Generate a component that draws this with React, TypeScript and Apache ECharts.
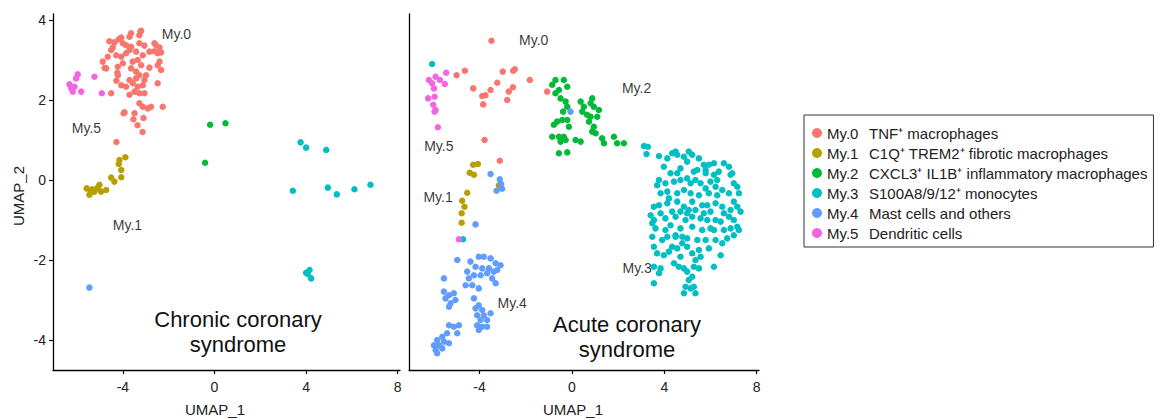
import React, { useEffect, useRef } from "react";
import * as echarts from "echarts";

const CLUSTERS = ["My.0", "My.1", "My.2", "My.3", "My.4", "My.5"];
const DESCRIPTIONS = [
  "TNF⁺ macrophages",
  "C1Q⁺ TREM2⁺ fibrotic macrophages",
  "CXCL3⁺ IL1B⁺ inflammatory macrophages",
  "S100A8/9/12⁺ monocytes",
  "Mast cells and others",
  "Dendritic cells",
];
const COLORS = ["#F8766D", "#B79F00", "#00BA38", "#00BFC4", "#619CFF", "#F564E3"];

const X_TICKS = [-4, 0, 4, 8];
const Y_TICKS = [-4, -2, 0, 2, 4];

// Chronic coronary syndrome
const C_MY0 = [[-3.23,3.72],[-3.2,3.73],[-3.28,3.62],[-3.64,3.67],[-3.71,3.58],[-4.07,3.56],[-4.18,3.52],[-4.59,3.47],[-4.37,3.44],[-4.0,3.42],[-3.86,3.37],[-3.64,3.33],[-3.28,3.42],[-3.06,3.36],[-2.62,3.42],[-2.55,3.37],[-2.4,3.31],[-2.62,3.22],[-2.48,3.17],[-2.84,3.21],[-3.13,3.12],[-3.42,3.21],[-3.71,3.25],[-3.86,3.17],[-4.07,3.08],[-4.29,3.12],[-4.66,3.08],[-4.88,2.96],[-4.44,3.31],[-4.51,3.25],[-4.0,2.92],[-3.57,2.96],[-3.35,3.0],[-3.2,2.87],[-2.84,2.81],[-2.48,2.87],[-2.4,2.96],[-2.33,3.19],[-2.33,2.75],[-4.22,2.83],[-4.73,2.79],[-3.64,2.79],[-3.42,2.71],[-3.28,2.62],[-2.99,2.62],[-3.42,2.54],[-3.06,2.5],[-3.71,2.5],[-4.22,2.62],[-4.07,2.37],[-3.86,2.33],[-3.57,2.42],[-3.35,2.33],[-3.13,2.37],[-3.49,2.21],[-3.28,2.17],[-3.06,2.17],[-2.48,2.42],[-4.51,2.17],[-4.8,2.8],[-4.24,2.68],[-4.28,2.48],[-3.71,2.13],[-3.28,1.92],[-3.13,1.83],[-2.91,1.79],[-2.77,1.83],[-2.26,1.83],[-3.93,1.69],[-3.49,1.67],[-3.1,1.55],[-3.36,1.37],[-3.14,1.2],[-3.97,1.67],[-3.54,1.52],[-4.28,0.95]];
const C_MY1 = [[-3.89,0.57],[-4.15,0.5],[-4.18,0.4],[-4.07,0.25],[-4.07,0.07],[-4.37,-0.04],[-4.51,0.06],[-4.73,-0.25],[-5.02,-0.12],[-5.1,-0.19],[-5.24,-0.29],[-5.46,-0.37],[-5.58,-0.21],[-5.34,-0.23],[-4.95,-0.29],[-5.4,-0.3]];
const C_MY2 = [[-0.19,1.38],[0.48,1.42],[-0.41,0.43]];
const C_MY3 = [[3.76,0.94],[4.0,0.81],[4.88,0.75],[3.42,-0.27],[4.95,-0.19],[5.34,-0.36],[6.11,-0.23],[6.81,-0.12],[4.15,-2.25],[4.07,-2.35],[4.22,-2.46],[4.0,-2.32]];
const C_MY4 = [[-5.46,-2.69]];
const C_MY5 = [[-5.97,2.64],[-6.04,2.54],[-6.33,2.39],[-6.11,2.33],[-6.19,2.21],[-5.82,2.21],[-5.24,2.58],[-4.92,2.17],[-6.26,2.3]];

// Acute coronary syndrome
const A_MY0 = [[-3.48,3.48],[-4.99,2.62],[-4.63,2.73],[-4.27,2.29],[-3.88,2.1],[-3.74,2.12],[-3.84,1.89],[-3.52,2.25],[-3.23,2.43],[-2.99,2.71],[-2.54,2.73],[-2.47,2.77],[-2.73,2.21],[-2.55,2.32],[-2.8,2.0],[-1.82,2.5],[-3.78,1.0],[-3.12,0.48],[-1.07,2.21]];
const A_MY1 = [[-4.27,0.38],[-4.07,0.4],[-4.42,0.18],[-4.24,0.13],[-4.53,-0.32],[-4.75,-0.52],[-4.65,-0.67],[-4.77,-0.83],[-4.77,-1.07],[-3.16,-0.13]];
const A_MY2 = [[-0.71,2.5],[-0.35,2.5],[-0.85,2.38],[-0.2,2.33],[-0.56,2.25],[-0.71,2.17],[-0.49,2.04],[-0.27,1.96],[-0.2,1.83],[-0.38,1.71],[0.38,1.96],[0.88,2.04],[0.81,1.92],[0.52,1.83],[0.95,1.83],[1.17,1.75],[0.45,1.71],[0.66,1.63],[0.81,1.58],[1.1,1.58],[0.74,1.46],[0.95,1.33],[0.88,1.21],[1.03,1.17],[-0.2,1.5],[-0.42,1.5],[-0.64,1.46],[-0.78,1.38],[-0.13,1.33],[-0.85,1.08],[-0.56,1.08],[-0.35,1.08],[-0.49,0.96],[-0.27,1.0],[0.16,1.0],[0.38,0.96],[1.31,1.04],[1.39,0.92],[1.82,1.08],[1.96,0.92],[2.25,0.92],[-0.56,0.67],[-0.2,0.69]];
const A_MY3 = [[-6.05,2.9],[-4.71,-1.48],[3.12,0.85],[3.29,0.83],[3.23,0.65],[3.77,0.6],[4.13,0.54],[4.34,0.67],[4.49,0.71],[4.56,0.63],[4.85,0.58],[5.06,0.71],[5.21,0.63],[4.99,0.46],[5.5,0.54],[5.71,0.38],[5.79,0.25],[5.93,0.38],[6.15,0.42],[5.79,0.17],[5.43,0.25],[5.28,0.21],[6.58,0.42],[6.8,0.33],[6.94,0.17],[6.87,0.13],[6.15,0.13],[6.29,0.0],[3.77,0.0],[3.69,-0.13],[4.05,-0.08],[4.42,-0.04],[4.7,0.0],[4.99,0.04],[5.14,-0.08],[5.35,0.0],[5.57,-0.08],[5.79,-0.21],[6.0,-0.04],[6.22,-0.17],[6.51,-0.25],[7.01,-0.08],[7.16,-0.17],[7.23,-0.33],[4.13,-0.29],[3.84,-0.33],[4.56,-0.33],[4.85,-0.25],[5.14,-0.33],[5.5,-0.38],[5.93,-0.33],[6.29,-0.38],[6.8,-0.33],[3.77,-0.63],[3.55,-0.67],[4.13,-0.58],[4.56,-0.54],[4.85,-0.67],[5.06,-0.75],[5.35,-0.75],[5.64,-0.63],[5.86,-0.63],[6.22,-0.58],[7.01,-0.54],[7.16,-0.67],[6.87,-0.75],[7.3,-0.79],[3.41,-0.88],[3.55,-1.0],[3.84,-0.83],[4.05,-0.96],[4.34,-0.79],[4.49,-0.92],[4.7,-0.79],[4.92,-1.0],[4.99,-0.83],[5.21,-0.92],[5.57,-0.96],[5.86,-1.0],[6.22,-1.0],[6.44,-1.04],[6.8,-0.92],[7.01,-1.0],[7.16,-1.17],[6.87,-1.21],[3.62,-1.21],[4.05,-1.25],[4.27,-1.13],[4.49,-1.38],[4.7,-1.21],[5.21,-1.17],[5.64,-1.25],[6.0,-1.21],[6.15,-1.25],[6.58,-1.25],[7.01,-1.38],[6.72,-1.46],[7.23,-1.25],[3.48,-1.42],[3.55,-1.67],[3.91,-1.5],[4.13,-1.42],[4.49,-1.42],[4.78,-1.42],[4.99,-1.46],[5.43,-1.5],[5.79,-1.5],[6.22,-1.5],[6.51,-1.58],[5.93,-1.71],[3.69,-1.83],[3.98,-1.88],[4.2,-1.79],[4.56,-1.71],[4.7,-1.92],[5.21,-1.83],[5.35,-2.0],[5.5,-1.75],[4.99,-1.67],[4.42,-2.08],[4.63,-2.17],[6.44,-1.88],[6.15,-2.17],[3.55,-2.17],[3.84,-2.21],[3.77,-2.33],[4.85,-2.21],[4.99,-2.29],[5.28,-2.17],[5.5,-2.21],[5.21,-2.42],[5.06,-2.5],[4.92,-2.67],[5.28,-2.67],[3.55,-2.58],[4.85,-2.83],[5.35,-2.83],[5.14,-2.71],[3.98,0.33],[4.27,0.17],[4.7,0.29],[6.36,0.21],[4.56,0.17],[4.2,-0.46],[6.0,-0.79],[6.51,-0.67],[4.34,-1.67],[5.57,-1.92],[4.78,-1.58],[5.71,-0.83],[6.58,-0.83],[5.21,-0.54],[3.48,-1.08]];
const A_MY4 = [[-0.06,1.71],[-3.52,0.15],[-3.12,0.02],[-3.06,-0.1],[-3.26,-0.27],[-3.02,-0.22],[-4.17,-1.11],[-4.96,-2.0],[-4.39,-2.04],[-4.03,-1.92],[-3.81,-1.92],[-3.52,-1.96],[-3.3,-2.08],[-3.09,-2.13],[-4.17,-2.17],[-3.88,-2.21],[-3.59,-2.21],[-4.53,-2.29],[-4.24,-2.38],[-3.95,-2.38],[-3.67,-2.33],[-3.38,-2.29],[-3.23,-2.25],[-4.46,-2.46],[-3.45,-2.46],[-3.3,-2.58],[-4.6,-2.63],[-4.31,-2.63],[-4.03,-2.71],[-5.54,-2.46],[-5.54,-2.79],[-5.32,-2.88],[-5.11,-2.83],[-5.04,-3.0],[-5.47,-2.96],[-5.25,-3.08],[-5.32,-3.17],[-4.24,-2.96],[-4.03,-3.13],[-4.17,-3.21],[-3.88,-3.25],[-3.81,-3.38],[-4.1,-3.38],[-3.67,-3.5],[-3.95,-3.5],[-4.1,-3.63],[-3.88,-3.67],[-4.03,-3.75],[-3.52,-3.33],[-3.67,-3.67],[-4.89,-3.63],[-5.11,-3.67],[-5.32,-3.63],[-5.4,-3.83],[-4.96,-3.83],[-5.61,-3.92],[-5.83,-4.0],[-5.97,-4.13],[-5.76,-4.13],[-5.9,-4.25],[-5.61,-4.21],[-5.83,-4.33],[-5.54,-4.04],[-5.32,-4.08]];
const A_MY5 = [[-6.19,2.5],[-5.9,2.58],[-5.71,2.5],[-5.44,2.68],[-5.5,2.4],[-6.05,2.42],[-5.97,2.29],[-6.22,2.04],[-5.94,2.08],[-6.0,1.88],[-5.94,1.71],[-5.9,1.75],[-5.8,1.32],[-4.89,-1.48]];

const C_LABEL_NAMES = ["My.0", "My.5", "My.1"];
const C_LABEL_POS = [[-1.66, 3.65], [-5.59, 1.3], [-3.8, -1.13]];
const A_LABEL_NAMES = ["My.0", "My.2", "My.5", "My.1", "My.3", "My.4"];
const A_LABEL_POS = [[-1.65, 3.5], [2.8, 2.31], [-5.76, 0.86], [-5.79, -0.42], [2.83, -2.21], [-2.58, -3.07]];

const CHRONIC = [C_MY0, C_MY1, C_MY2, C_MY3, C_MY4, C_MY5];
const ACUTE = [A_MY0, A_MY1, A_MY2, A_MY3, A_MY4, A_MY5];

const FONT = "Liberation Sans, Arial, sans-serif";

export default function App() {
  const ref = useRef<HTMLDivElement>(null);
  useEffect(() => {
    if (!ref.current) return;
    const chart = echarts.init(ref.current, undefined, { renderer: "svg" });

    const xAxisBase = (showLabel: boolean) => ({
      type: "value",
      min: -7.05,
      max: 8.1,
      splitLine: { show: false },
      axisLine: { onZero: false, lineStyle: { color: "#000", width: 1.3 } },
      axisTick: { show: true, length: 4, lineStyle: { color: "#000", width: 1.2 }, customValues: X_TICKS },
      axisLabel: {
        show: showLabel,
        customValues: X_TICKS,
        fontSize: 14,
        color: "#222",
        fontFamily: FONT,
        margin: 10,
      },
    });

    const yAxisBase = (show: boolean) => ({
      type: "value",
      min: -4.75,
      max: 4.15,
      splitLine: { show: false },
      axisLine: { onZero: false, lineStyle: { color: "#000", width: 1.3 } },
      axisTick: { show, length: 4, lineStyle: { color: "#000", width: 1.2 }, customValues: Y_TICKS },
      axisLabel: {
        show,
        customValues: Y_TICKS,
        fontSize: 14,
        color: "#222",
        fontFamily: FONT,
        margin: 7,
      },
    });

    const series: any[] = [];
    [CHRONIC, ACUTE].forEach((panel, pi) => {
      panel.forEach((pts, ci) => {
        series.push({
          type: "scatter",
          name: CLUSTERS[ci],
          xAxisIndex: pi,
          yAxisIndex: pi,
          data: pts,
          symbolSize: 6.5,
          itemStyle: { color: COLORS[ci], opacity: 1 },
        });
      });
    });
    const labelSeries = (names: string[], pos: number[][], idx: number) => ({
      type: "scatter",
      name: "labels" + idx,
      xAxisIndex: idx,
      yAxisIndex: idx,
      symbolSize: 0,
      silent: true,
      data: names.map((n, i) => ({ name: n, value: pos[i] })),
      label: {
        show: true,
        position: "inside",
        formatter: "{b}",
        fontSize: 14,
        color: "#000",
        textBorderWidth: 0,
        fontFamily: FONT,
      },
    });
    series.push(labelSeries(C_LABEL_NAMES, C_LABEL_POS, 0));
    series.push(labelSeries(A_LABEL_NAMES, A_LABEL_POS, 1));

    const option: any = {
      animation: false,
      backgroundColor: "#fff",
      textStyle: { fontFamily: FONT },
      grid: [
        { left: 53, top: 14, width: 347, height: 356 },
        { left: 409, top: 14, width: 350, height: 356 },
      ],
      xAxis: [
        { ...xAxisBase(true), gridIndex: 0 },
        { ...xAxisBase(true), gridIndex: 1 },
      ],
      yAxis: [
        { ...yAxisBase(true), gridIndex: 0 },
        { ...yAxisBase(false), gridIndex: 1 },
      ],
      legend: {
        orient: "vertical",
        left: 804,
        top: 115,
        data: CLUSTERS,
        icon: "circle",
        itemWidth: 10,
        itemHeight: 10,
        itemGap: 0,
        padding: [8, 6, 4, 8],
        borderColor: "#333",
        borderWidth: 1,
        selectedMode: false,
        formatter: (name: string) => {
          const i = CLUSTERS.indexOf(name);
          return `{a|${name}}{b|${DESCRIPTIONS[i]}}`;
        },
        textStyle: {
          fontSize: 15,
          lineHeight: 20,
          color: "#222",
          fontFamily: FONT,
          rich: {
            a: { width: 42, fontSize: 15, lineHeight: 20, fontFamily: FONT, color: "#222" },
            b: { fontSize: 15, lineHeight: 20, fontFamily: FONT, color: "#222" },
          },
        },
      },
      graphic: [
        {
          type: "text",
          x: 238,
          y: 332,
          style: {
            text: "Chronic coronary\nsyndrome",
            fontSize: 22,
            lineHeight: 25,
            fontFamily: FONT,
            fill: "#111",
            align: "center",
            verticalAlign: "middle",
          },
        },
        {
          type: "text",
          x: 627,
          y: 337,
          style: {
            text: "Acute coronary\nsyndrome",
            fontSize: 22,
            lineHeight: 25,
            fontFamily: FONT,
            fill: "#111",
            align: "center",
            verticalAlign: "middle",
          },
        },
        {
          type: "text",
          x: 215,
          y: 409,
          style: { text: "UMAP_1", fontSize: 15, fontFamily: FONT, fill: "#222", align: "center", verticalAlign: "middle" },
        },
        {
          type: "text",
          x: 573,
          y: 409,
          style: { text: "UMAP_1", fontSize: 15, fontFamily: FONT, fill: "#222", align: "center", verticalAlign: "middle" },
        },
        {
          type: "text",
          x: 18,
          y: 196,
          rotation: Math.PI / 2,
          style: { text: "UMAP_2", fontSize: 15, fontFamily: FONT, fill: "#222", align: "center", verticalAlign: "middle" },
        },
      ],
      series,
    };
    chart.setOption(option);
    return () => chart.dispose();
  }, []);

  return (
    <div
      ref={ref}
      style={{ position: "absolute", left: 0, top: 0, width: 1168, height: 420 }}
    />
  );
}
